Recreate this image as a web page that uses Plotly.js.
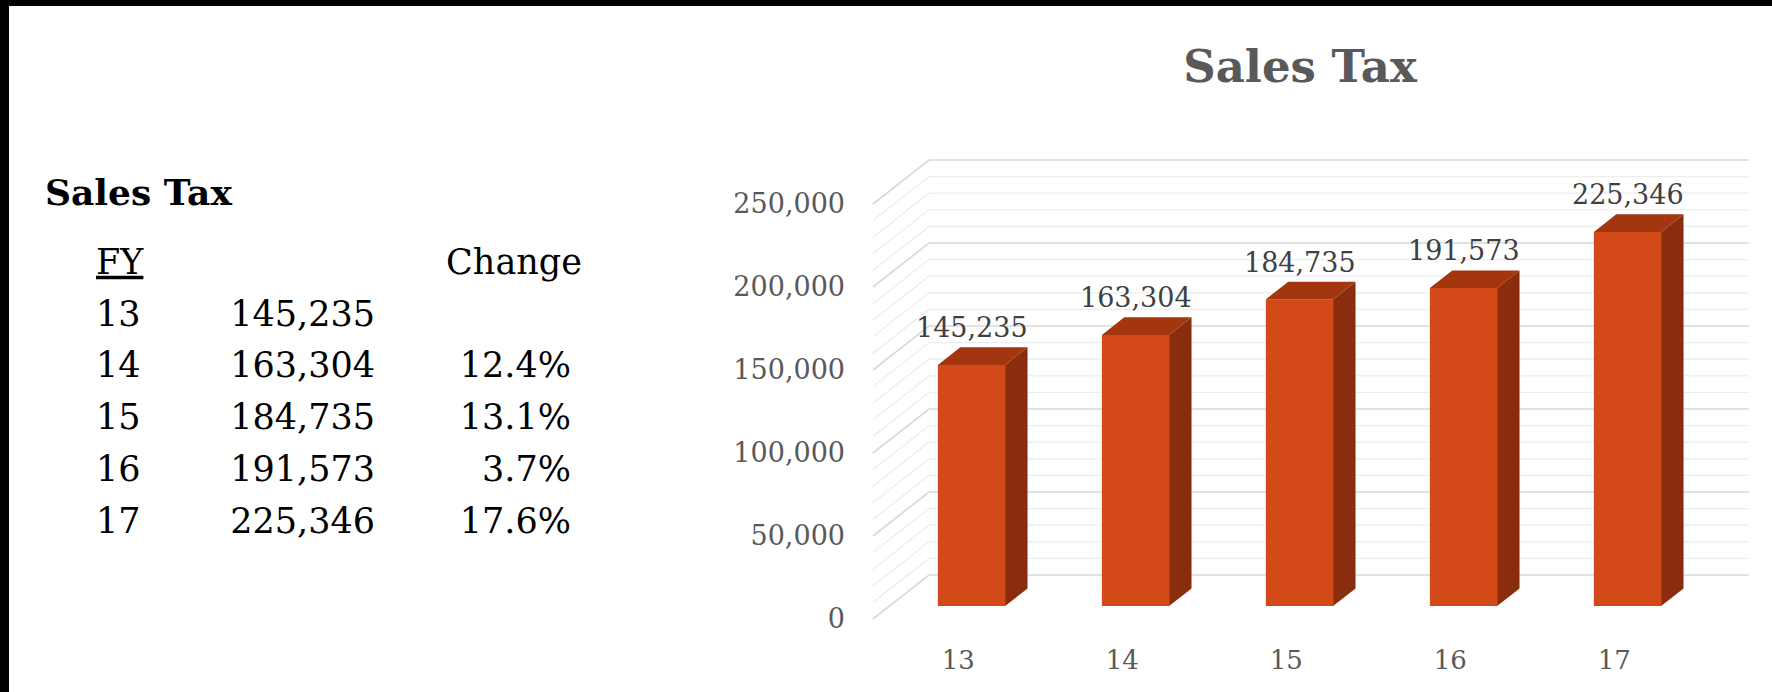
<!DOCTYPE html>
<html><head><meta charset="utf-8">
<script src="https://cdn.plot.ly/plotly-3.0.1.min.js"></script>
<style>
html,body{margin:0;padding:0;background:#000;width:1772px;height:692px;overflow:hidden;}
#chart{position:absolute;left:9px;top:6px;width:1763px;height:686px;background:#fff;}
</style></head><body><div id="chart"></div>
<script>
// ---- data ----
const categories = ['13','14','15','16','17'];
const salesTax = [145235, 163304, 184735, 191573, 225346];
const changePct = [null, 12.4, 13.1, 3.7, 17.6];
const yTickVals = [0, 50000, 100000, 150000, 200000, 250000];
const yTickText = ['0','50,000','100,000','150,000','200,000','250,000'];
const chartTitle = 'Sales Tax';
const tableTitle = 'Sales Tax';
const tableHeaders = ['FY', 'Change'];

// ---- geometry (page px) ----
const W=1763, H=686, OX=9, OY=6;
const fx=p=>(p-OX)/W, fy=p=>1-(p-OY)/H;
const plotL=860, plotR=1760, plotT=150, plotB=630;
const cat0=971.5, catStep=164, zeroY=606, pxPerVal=83/50000;
const xmin=-(cat0-plotL)/catStep, xmax=xmin+(plotR-plotL)/catStep;
const vmin=-(plotB-zeroY)/pxPerVal, vmax=vmin+(plotB-plotT)/pxPerVal;
const DX=56/catStep, DY=44/pxPerVal;
const dFront=0.295, dBar=0.40, bw=0.41, hw=bw/2;
const P=(x,d,v)=>[x+(d-dFront)*DX, v+(d-dFront)*DY];
const fmt=v=>v.toLocaleString('en-US');
const nCat=categories.length;
const idx=categories.map((c,i)=>i);

// gridlines on side + back wall
const shapes=[];
const gridMax=yTickVals[yTickVals.length-1], minorStep=10000;
for(let v=0; v<=gridMax; v+=minorStep){
  const a=P(-0.5,0,v), b=P(-0.5,1,v), c=P(nCat-0.5,1,v);
  const major = v%50000===0;
  shapes.push({type:'path', xref:'x', yref:'y', layer:'below',
    path:`M${a[0]},${a[1]} L${b[0]},${b[1]} L${c[0]},${c[1]}`,
    line:{color: major?'#d9d9d9':'#ededed', width: major?1.7:1.3}});
}

// 3D faces
const sx=[],sy=[],tx=[],ty=[];
salesTax.forEach((v,i)=>{
  const fr0=P(i+hw,dFront,0), fr1=P(i+hw,dFront,v), br1=P(i+hw,dFront+dBar,v), br0=P(i+hw,dFront+dBar,0);
  const fl1=P(i-hw,dFront,v), bl1=P(i-hw,dFront+dBar,v);
  sx.push(fr0[0],fr1[0],br1[0],br0[0],fr0[0],null); sy.push(fr0[1],fr1[1],br1[1],br0[1],fr0[1],null);
  tx.push(fl1[0],fr1[0],br1[0],bl1[0],fl1[0],null); ty.push(fl1[1],fr1[1],br1[1],bl1[1],fl1[1],null);
});

const font='DejaVu Serif';
const traces=[
  {type:'bar', x:idx, y:salesTax, width:bw, marker:{color:'#D34A18', line:{width:0}}, hoverinfo:'skip'},
  {type:'scatter', mode:'lines', x:sx, y:sy, fill:'toself', fillcolor:'#8A2D0E', line:{width:0, color:'#8A2D0E'}, hoverinfo:'skip'},
  {type:'scatter', mode:'lines', x:tx, y:ty, fill:'toself', fillcolor:'#A3360F', line:{width:0, color:'#A3360F'}, hoverinfo:'skip'},
];

// table
const rowY0=259, rowStep=51.8;
const tfont={family:font, size:35, color:'#000'};
const rows=categories.map((c,i)=>i+1);
traces.push(
  {type:'scatter', mode:'text', xaxis:'x2', yaxis:'y2', x:[36], y:[(196-OY-rowY0)/rowStep], text:['<b>'+tableTitle+'</b>'], textposition:'middle right', textfont:{family:font, size:36, color:'#000'}, hoverinfo:'skip', cliponaxis:false},
  {type:'scatter', mode:'text', xaxis:'x2', yaxis:'y2', x:[87,505], y:[0,0], text:['<u>'+tableHeaders[0]+'</u>',tableHeaders[1]], textposition:['middle right','middle center'], textfont:tfont, hoverinfo:'skip', cliponaxis:false},
  {type:'scatter', mode:'text', xaxis:'x2', yaxis:'y2', x:rows.map(()=>87), y:rows, text:categories, textposition:'middle right', textfont:tfont, hoverinfo:'skip', cliponaxis:false},
  {type:'scatter', mode:'text', xaxis:'x2', yaxis:'y2', x:rows.map(()=>366), y:rows, text:salesTax.map(fmt), textposition:'middle left', textfont:tfont, hoverinfo:'skip', cliponaxis:false},
  {type:'scatter', mode:'text', xaxis:'x2', yaxis:'y2', x:rows.map(()=>562), y:rows, text:changePct.map(c=>c==null?'':c.toFixed(1)+'%'), textposition:'middle left', textfont:tfont, hoverinfo:'skip', cliponaxis:false}
);

const annotations=salesTax.map((v,i)=>({x:i, y:v+dBar*DY, xref:'x', yref:'y', text:fmt(v), showarrow:false,
  yanchor:'bottom', yshift:2, font:{family:font, size:27, color:'#404040'}}));

const layout={
  width:W, height:H, margin:{l:0,r:0,t:0,b:0}, showlegend:false,
  paper_bgcolor:'#fff', plot_bgcolor:'rgba(0,0,0,0)',
  title:{text:'<b>'+chartTitle+'</b>', font:{family:font, size:45, color:'#595959'}, x:fx(1300), xanchor:'center', xref:'paper', y:fy(66), yref:'paper', yanchor:'middle'},
  xaxis:{domain:[fx(plotL), fx(plotR)], range:[xmin,xmax], showgrid:false, zeroline:false, showline:false, ticks:'',
    tickmode:'array', tickvals:idx.map(i=>i-dFront*DX+0.02), ticktext:categories, ticklabelstandoff:12,
    tickfont:{family:font, size:26, color:'#595959'}, automargin:false, fixedrange:true},
  yaxis:{domain:[fy(plotB), fy(plotT)], range:[vmin,vmax], showgrid:false, zeroline:false, showline:false, ticks:'',
    tickmode:'array', tickvals:yTickVals.map(v=>v-dFront*DY), ticktext:yTickText, ticklabelstandoff:14,
    tickfont:{family:font, size:27, color:'#595959'}, automargin:false, fixedrange:true},
  xaxis2:{domain:[0,0.4], range:[0,0.4*W], visible:false, fixedrange:true},
  yaxis2:{domain:[0,1], range:[(H-rowY0)/rowStep, -rowY0/rowStep], visible:false, fixedrange:true, anchor:'x2'},
  shapes:shapes, annotations:annotations
};
Plotly.newPlot('chart', traces, layout, {staticPlot:true, displayModeBar:false});
</script></body></html>
